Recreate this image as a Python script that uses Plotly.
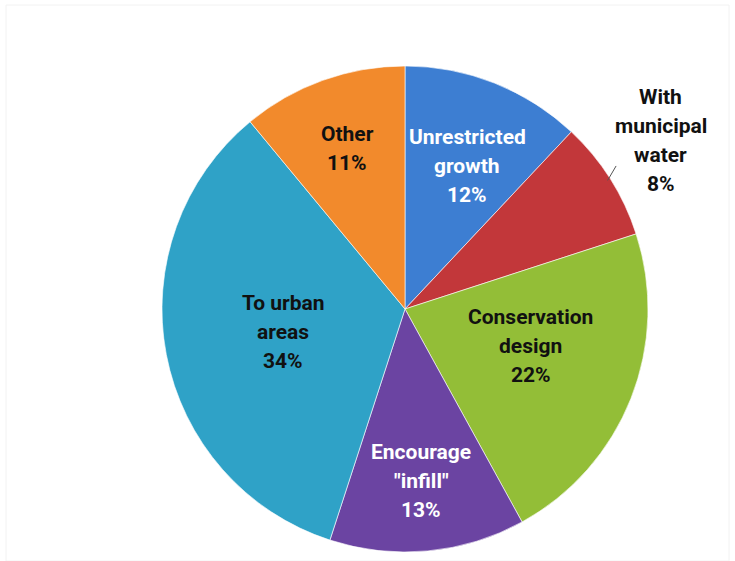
import math
import plotly.graph_objects as go

# Share of responses by growth preference (clockwise from 12 o'clock)
categories = ["Unrestricted growth", "With municipal water", "Conservation design",
              "Encourage \"infill\"", "To urban areas", "Other"]
values = [12, 8, 22, 13, 34, 11]
label_lines = [["Unrestricted", "growth"], ["With", "municipal", "water"],
               ["Conservation", "design"], ["Encourage", "\"infill\""],
               ["To urban", "areas"], ["Other"]]
colors = ["#3D7ED2", "#C2373A", "#93BE37", "#6B44A2", "#2FA2C7", "#F28A2C"]
text_colors = ["#FFFFFF", "#111111", "#111111", "#FFFFFF", "#111111", "#111111"]
# label distance from centre (fraction of radius) and angular nudge in degrees
label_radius = [0.64, 1.26, 0.54, 0.71, 0.51, 0.70]
label_turn = [2, -1, -5, 0, 0, 0]

W, H = 735, 561
cx, cy, R = 405, 309, 243  # pie centre and radius in pixels

fig = go.Figure(go.Pie(
    labels=categories,
    values=values,
    sort=False,
    direction="clockwise",
    rotation=0,
    marker=dict(colors=colors, line=dict(color="rgba(255,255,255,0.6)", width=1)),
    textinfo="none",
    hoverinfo="label+percent",
    domain=dict(x=[(cx - R) / W, (cx + R) / W],
                y=[(H - cy - R) / H, (H - cy + R) / H]),
    showlegend=False,
))

total = sum(values)
annotations = []
shapes = []
start = 0.0
line_gap = 29
for i, v in enumerate(values):
    mid_slice = (start + v / 2) / total * 2 * math.pi
    mid = mid_slice + math.radians(label_turn[i])
    start += v
    px = cx + label_radius[i] * R * math.sin(mid)
    py = cy - label_radius[i] * R * math.cos(mid)
    lines = label_lines[i] + [f"{round(v / total * 100)}%"]
    n = len(lines)
    for k, t in enumerate(lines):
        ly = py + (k - (n - 1) / 2) * line_gap
        annotations.append(dict(
            x=px / W, y=(H - ly) / H, xref="paper", yref="paper",
            text=t, showarrow=False, xanchor="center", yanchor="middle",
            font=dict(family="Roboto", size=21, color=text_colors[i], weight="bold"),
        ))
    if label_radius[i] > 1:
        # short leader line from the slice edge toward its outside label
        x0 = cx + (R - 3) * math.sin(mid_slice)
        y0 = cy - (R - 3) * math.cos(mid_slice)
        x1 = cx + (R + 12) * math.sin(mid_slice - 0.03)
        y1 = cy - (R + 12) * math.cos(mid_slice - 0.03)
        shapes.append(dict(type="line", xref="paper", yref="paper",
                           x0=x0 / W, y0=(H - y0) / H, x1=x1 / W, y1=(H - y1) / H,
                           line=dict(color="#555555", width=1)))

# faint outer frame
shapes.append(dict(type="rect", xref="paper", yref="paper",
                   x0=6 / W, y0=0, x1=729 / W, y1=(H - 5) / H,
                   line=dict(color="#F2F2F2", width=1)))

fig.update_layout(
    width=W, height=H,
    margin=dict(l=0, r=0, t=0, b=0),
    paper_bgcolor="white",
    plot_bgcolor="white",
    annotations=annotations,
    shapes=shapes,
)

fig.write_html("out.html")
